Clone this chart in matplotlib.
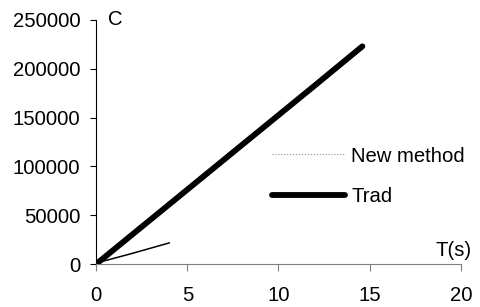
import matplotlib
matplotlib.use("Agg")
import matplotlib.pyplot as plt

plt.rcParams['font.family'] = ['Liberation Sans', 'DejaVu Sans']

# data
trad_t = [0, 2, 4, 6, 8, 10, 12, 14.6]
trad_c = [0, 30500, 61000, 91500, 122000, 152500, 183000, 223000]
new_t = [0, 0.3, 0.8, 1.5, 2, 3, 4]
new_c = [0, 2500, 5000, 8500, 11000, 16300, 21600]

x_ticks = [0, 5, 10, 15, 20]
y_ticks = [0, 50000, 100000, 150000, 200000, 250000]

fs = 14.6

fig = plt.figure(figsize=(4.81, 3.07), dpi=100)
ax = fig.add_axes([0.2, 0.140, 0.758, 0.795])

ax.plot(new_t, new_c, color='black', lw=1.1, label='New method')
ax.plot(trad_t, trad_c, color='black', lw=4.2, solid_capstyle='round', label='Trad')

ax.set_xlim(0, 20)
ax.set_ylim(0, 250000)
ax.set_xticks(x_ticks)
ax.set_yticks(y_ticks)
ax.set_xticklabels([str(v) for v in x_ticks])
ax.set_yticklabels([str(v) for v in y_ticks])

for s in ['top', 'right']:
    ax.spines[s].set_visible(False)
ax.spines['bottom'].set_color('#808080')
ax.spines['left'].set_color('black')
ax.tick_params(axis='x', colors='#808080', labelcolor='black', length=5, labelsize=fs, pad=11)
ax.tick_params(axis='y', length=4.5, labelsize=fs, pad=7)

ax.text(0.033, 1.0, 'C', transform=ax.transAxes, fontsize=fs, va='center', ha='left')
ax.text(1.03, 0.057, 'T(s)', transform=ax.transAxes, fontsize=fs, va='center', ha='right')

# legend with a thin grey dotted line for the new method
leg = ax.legend(loc='center left', bbox_to_anchor=(0.482, 0.36), frameon=False,
                fontsize=fs, handlelength=3.6, handletextpad=0.3, labelspacing=1.05,
                borderpad=0, borderaxespad=0)
leg.get_lines()[0].set_color('#909090')
leg.get_lines()[0].set_linewidth(0.8)
leg.get_lines()[0].set_linestyle(':')

fig.savefig('out.png', dpi=100)
